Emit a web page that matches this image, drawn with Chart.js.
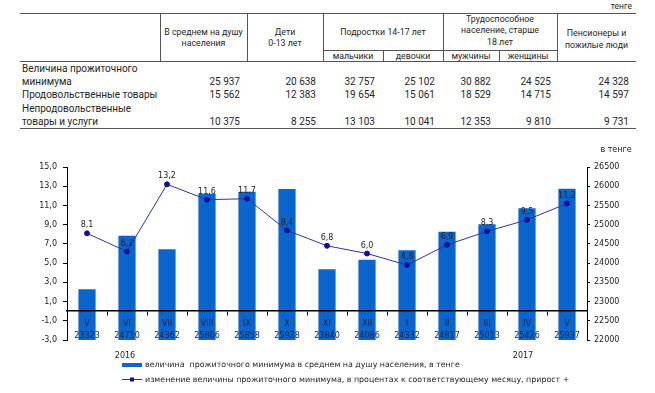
<!DOCTYPE html>
<html>
<head>
<meta charset="utf-8">
<script src="https://cdn.jsdelivr.net/npm/chart.js@4"></script>
<style>
  body { margin: 0; background: #fff; }
  #page { position: relative; width: 655px; height: 393px; overflow: hidden; }
  #chart { position: absolute; left: 0; top: 0; }
  .t { position: absolute; white-space: nowrap; font-family: Roboto, sans-serif; color: #262626; }
  .ln { position: absolute; background: #555; }
</style>
</head>
<body>
<div id="page">
  <div id="table"></div>
  <canvas id="chart" width="655" height="393"></canvas>
</div>
<script>
// table data (тенге)
const groupHeaders = [
    ['В среднем на душу', 'населения'],
    ['Дети', '0-13 лет'],
    ['Подростки 14-17 лет'],
    ['Трудоспособное', 'население, старше', '18 лет'],
    ['Пенсионеры и', 'пожилые люди']
];
const subHeaders = ['мальчики', 'девочки', 'мужчины', 'женщины'];
const rowLabels = [
    ['Величина прожиточного', 'минимума'],
    ['Продовольственные товары'],
    ['Непродовольственные', 'товары и услуги']
];
const subsistenceMinimum = [25937, 20638, 32757, 25102, 30882, 24525, 24328];
const foodGoods = [15562, 12383, 19654, 15061, 18529, 14715, 14597];
const nonFoodGoods = [10375, 8255, 13103, 10041, 12353, 9810, 9731];

// chart data
const months = ['V', 'VI', 'VII', 'VIII', 'IX', 'X', 'XI', 'XII', 'I', 'II', 'III', 'IV', 'V'];
const minimumPerCapita = [23323, 24710, 24362, 25806, 25858, 25928, 23840, 24086, 24332, 24817, 25013, 25426, 25937];
const changePercent = [8.1, 6.2, 13.2, 11.6, 11.7, 8.4, 6.8, 6.0, 4.8, 6.9, 8.3, 9.5, 11.2];
const years = ['2016', '2017'];
const legendLabels = [
    'величина  прожиточного минимума в среднем на душу населения, в тенге',
    'изменение величины прожиточного минимума, в процентах к соответствующему месяцу, прирост +'
];

const barColor = '#0a66cc';
const lineColor = '#3030a8';

function fmt(n) {
    return String(n).replace(/\B(?=(\d{3})+(?!\d))/g, ' ');
}

// --- table ---
const tbl = document.getElementById('table');

function text(str, x, y, size, align, w) {
    const d = document.createElement('div');
    d.className = 't';
    d.textContent = str;
    d.style.fontSize = size + 'px';
    d.style.lineHeight = '14px';
    d.style.top = (y - 7) + 'px';
    if (align === 'center') {
        d.style.left = x + 'px';
        d.style.width = w + 'px';
        d.style.textAlign = 'center';
    } else if (align === 'right') {
        d.style.right = (655 - x) + 'px';
    } else {
        d.style.left = x + 'px';
    }
    tbl.appendChild(d);
}

function line(x, y, w, h) {
    const d = document.createElement('div');
    d.className = 'ln';
    d.style.left = x + 'px';
    d.style.top = y + 'px';
    d.style.width = w + 'px';
    d.style.height = h + 'px';
    tbl.appendChild(d);
}

text('тенге', 632, 6, 8.5, 'right');
line(20, 13, 616, 1);
line(20, 61, 616, 1);
line(20, 128, 616, 1);
line(323, 50, 234, 1);
[160, 247, 323, 443, 557].forEach(x => line(x, 13, 1, 48));
[383, 499].forEach(x => line(x, 50, 1, 11));

const groupCols = [[160, 247], [247, 323], [323, 443], [443, 557], [557, 636]];
const groupY = [[32, 43], [32, 43], [32], [19, 30, 42], [33, 45]];
groupHeaders.forEach((lines, i) => {
    lines.forEach((s, j) => {
        text(s, groupCols[i][0], groupY[i][j], 8.8, 'center', groupCols[i][1] - groupCols[i][0]);
    });
});
const subCols = [[323, 383], [383, 443], [443, 499], [499, 557]];
subHeaders.forEach((s, i) => {
    text(s, subCols[i][0], 56, 8.8, 'center', subCols[i][1] - subCols[i][0]);
});

const rowY = [[69, 82], [95], [109, 122]];
const valueRight = [240, 316, 375, 435, 491, 551, 629];
const rows = [subsistenceMinimum, foodGoods, nonFoodGoods];
rowLabels.forEach((lines, r) => {
    lines.forEach((s, j) => text(s, 22, rowY[r][j], 10, 'left'));
    const y = rowY[r][rowY[r].length - 1];
    rows[r].forEach((v, c) => text(fmt(v), valueRight[c], y, 10, 'right'));
});

// --- chart ---
const chartFont = 'DejaVu Sans';

const extrasPlugin = {
    id: 'extras',
    afterDatasetsDraw(chart) {
        const ctx = chart.ctx;
        const meta = chart.getDatasetMeta(1);
        ctx.save();
        ctx.font = '8px "' + chartFont + '"';
        ctx.fillStyle = '#222';
        ctx.textAlign = 'center';
        ctx.textBaseline = 'middle';
        meta.data.forEach((pt, i) => {
            ctx.fillText(changePercent[i].toFixed(1).replace('.', ','), pt.x, pt.y - 8);
        });
        ctx.restore();
    },
    afterDraw(chart) {
        const ctx = chart.ctx;
        const x = chart.scales.x;
        ctx.save();
        ctx.font = '8px "' + chartFont + '"';
        ctx.fillStyle = '#222';
        ctx.textAlign = 'center';
        ctx.textBaseline = 'middle';
        ctx.fillText(years[0], x.getPixelForValue(1) - 2, 356);
        ctx.fillText(years[1], x.getPixelForValue(11) - 4, 356);
        ctx.fillText('в тенге', 616, 150);

        // legend
        ctx.fillStyle = barColor;
        ctx.fillRect(122, 363, 20, 4);
        ctx.strokeStyle = lineColor;
        ctx.lineWidth = 1;
        ctx.beginPath();
        ctx.moveTo(122, 379.5);
        ctx.lineTo(142, 379.5);
        ctx.stroke();
        ctx.fillStyle = '#1010a0';
        ctx.fillRect(130, 377.5, 4, 4);
        ctx.fillStyle = '#222';
        ctx.textAlign = 'left';
        ctx.font = '7.9px "' + chartFont + '"';
        ctx.fillText(legendLabels[0], 145, 365);
        ctx.fillText(legendLabels[1], 145, 379.5);
        ctx.restore();
    }
};

const data = {
    labels: months.map((m, i) => [m, String(minimumPerCapita[i])]),
    datasets: [{
        type: 'bar',
        label: legendLabels[0],
        data: minimumPerCapita,
        backgroundColor: barColor,
        yAxisID: 'y1',
        barPercentage: 0.43,
        categoryPercentage: 1,
        order: 1
    }, {
        type: 'line',
        label: legendLabels[1],
        data: changePercent,
        borderColor: lineColor,
        borderWidth: 1,
        pointRadius: 2.5,
        pointBackgroundColor: '#1010a0',
        pointBorderColor: '#1010a0',
        yAxisID: 'y',
        order: 0
    }]
};

const config = {
    type: 'bar',
    data: data,
    options: {
        responsive: false,
        animation: false,
        layout: { padding: { top: 167, bottom: 53, left: 0, right: 0 } },
        plugins: { legend: { display: false }, tooltip: { enabled: false } },
        scales: {
            x: {
                position: { y: 0 },
                grid: { display: true, drawOnChartArea: false, drawTicks: true, tickLength: 4, color: '#000', offset: true, z: 1 },
                border: { display: true, color: '#000', width: 1.5, z: 1 },
                ticks: {
                    z: 1,
                    font: { family: chartFont, size: 8, lineHeight: 1.5 },
                    color: '#1a2448',
                    padding: 3,
                    maxRotation: 0,
                    autoSkip: false
                }
            },
            y: {
                position: 'left',
                min: -3,
                max: 15,
                afterFit: (s) => { s.width = 67; },
                grid: { drawOnChartArea: false, tickLength: 4, color: '#000' },
                border: { color: '#000', width: 1 },
                ticks: {
                    stepSize: 2,
                    padding: 6,
                    font: { family: chartFont, size: 8 },
                    color: '#222',
                    callback: (v) => v.toFixed(1).replace('.', ',')
                }
            },
            y1: {
                position: 'right',
                min: 22000,
                max: 26500,
                afterFit: (s) => { s.width = 68; },
                grid: { drawOnChartArea: false, tickLength: 3, color: '#000' },
                border: { color: '#000', width: 1 },
                ticks: {
                    stepSize: 500,
                    padding: 4,
                    font: { family: chartFont, size: 8 },
                    color: '#222',
                    callback: (v) => String(v)
                }
            }
        }
    },
    plugins: [extrasPlugin]
};

const myChart = new Chart(document.getElementById('chart'), config);
</script>
</body>
</html>
